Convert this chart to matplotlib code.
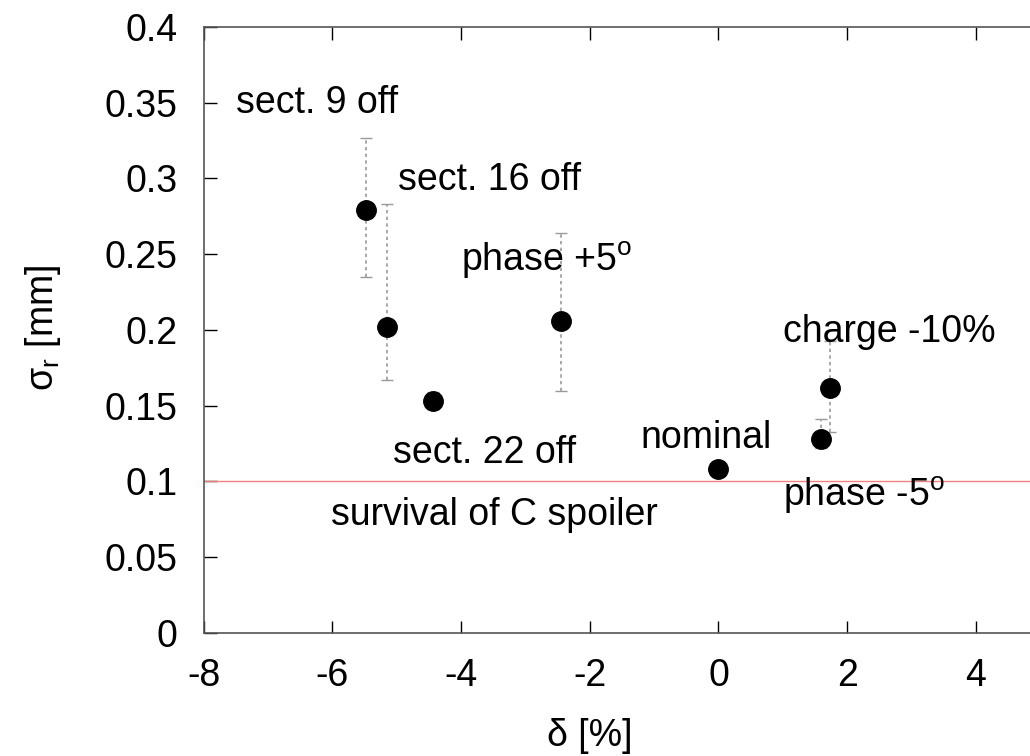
import matplotlib.pyplot as plt

plt.rcParams['font.family'] = ['Liberation Sans', 'DejaVu Sans']
plt.rcParams['axes.unicode_minus'] = False
plt.rcParams['mathtext.fontset'] = 'custom'
plt.rcParams['mathtext.rm'] = 'Liberation Sans'
plt.rcParams['mathtext.it'] = 'Liberation Sans'
plt.rcParams['mathtext.default'] = 'regular'

# 数据
labels = ['sect. 9 off', 'sect. 16 off', 'sect. 22 off', 'phase +5', 'nominal', 'phase -5', 'charge -10%']
delta = [-5.48, -5.15, -4.44, -2.45, 0.0, 1.59, 1.73]
sigma = [0.279, 0.202, 0.153, 0.206, 0.108, 0.128, 0.162]
err_hi = [0.327, 0.283, 0.159, 0.264, 0.108, 0.141, 0.193]
err_lo = [0.235, 0.167, 0.148, 0.160, 0.108, 0.122, 0.133]
limit = 0.1

fig = plt.figure(figsize=(10.30, 7.56), dpi=100)
ax = fig.add_axes([0.1976, 0.1627, 0.8024, 0.8016])

yerr = [[s - l for s, l in zip(sigma, err_lo)], [h - s for s, h in zip(sigma, err_hi)]]
eb = ax.errorbar(delta, sigma, yerr=yerr, fmt='none', ecolor='#999999',
                 elinewidth=1.2, capsize=4, capthick=1)
eb[2][0].set_linestyle((0, (2, 2)))
ax.plot(delta, sigma, 'o', color='black', ms=14, zorder=3)

ax.axhline(limit, color='#f08080', lw=1)

fs = 27
ax.text(-7.5, 0.35, 'sect. 9 off', fontsize=fs, va='center')
ax.text(-4.98, 0.299, 'sect. 16 off', fontsize=fs, va='center')
ax.text(-4.0, 0.246, r'phase +5$^{o}$', fontsize=fs, va='center')
ax.text(-5.06, 0.119, 'sect. 22 off', fontsize=fs, va='center')
ax.text(-6.02, 0.078, 'survival of C spoiler', fontsize=fs, va='center')
ax.text(-1.21, 0.129, 'nominal', fontsize=fs, va='center')
ax.text(1.0, 0.199, 'charge -10%', fontsize=fs, va='center')
ax.text(1.0, 0.091, r'phase -5$^{o}$', fontsize=fs, va='center')

ax.set_xlim(-8, 4.84)
ax.set_ylim(0, 0.4)
ax.set_xticks([-8, -6, -4, -2, 0, 2, 4])
ax.set_yticks([0, 0.05, 0.1, 0.15, 0.2, 0.25, 0.3, 0.35, 0.4])
ax.set_yticklabels(['0', '0.05', '0.1', '0.15', '0.2', '0.25', '0.3', '0.35', '0.4'])
ax.tick_params(direction='in', length=9, width=1, labelsize=fs, top=True)
ax.tick_params(axis='x', pad=18)
ax.tick_params(axis='y', pad=19)
ax.spines['right'].set_visible(False)
for s in ['left', 'bottom', 'top']:
    ax.spines[s].set_color('#555555')
    ax.spines[s].set_linewidth(1.2)

fig.text(590 / 1030, 1 - 736 / 756, 'δ [%]', fontsize=fs, ha='center', va='center')
fig.text(43 / 1030, 1 - 328 / 756, r'$\sigma_r$ [mm]', fontsize=fs, ha='center', va='center', rotation=90)

plt.savefig('out.png', dpi=100)
